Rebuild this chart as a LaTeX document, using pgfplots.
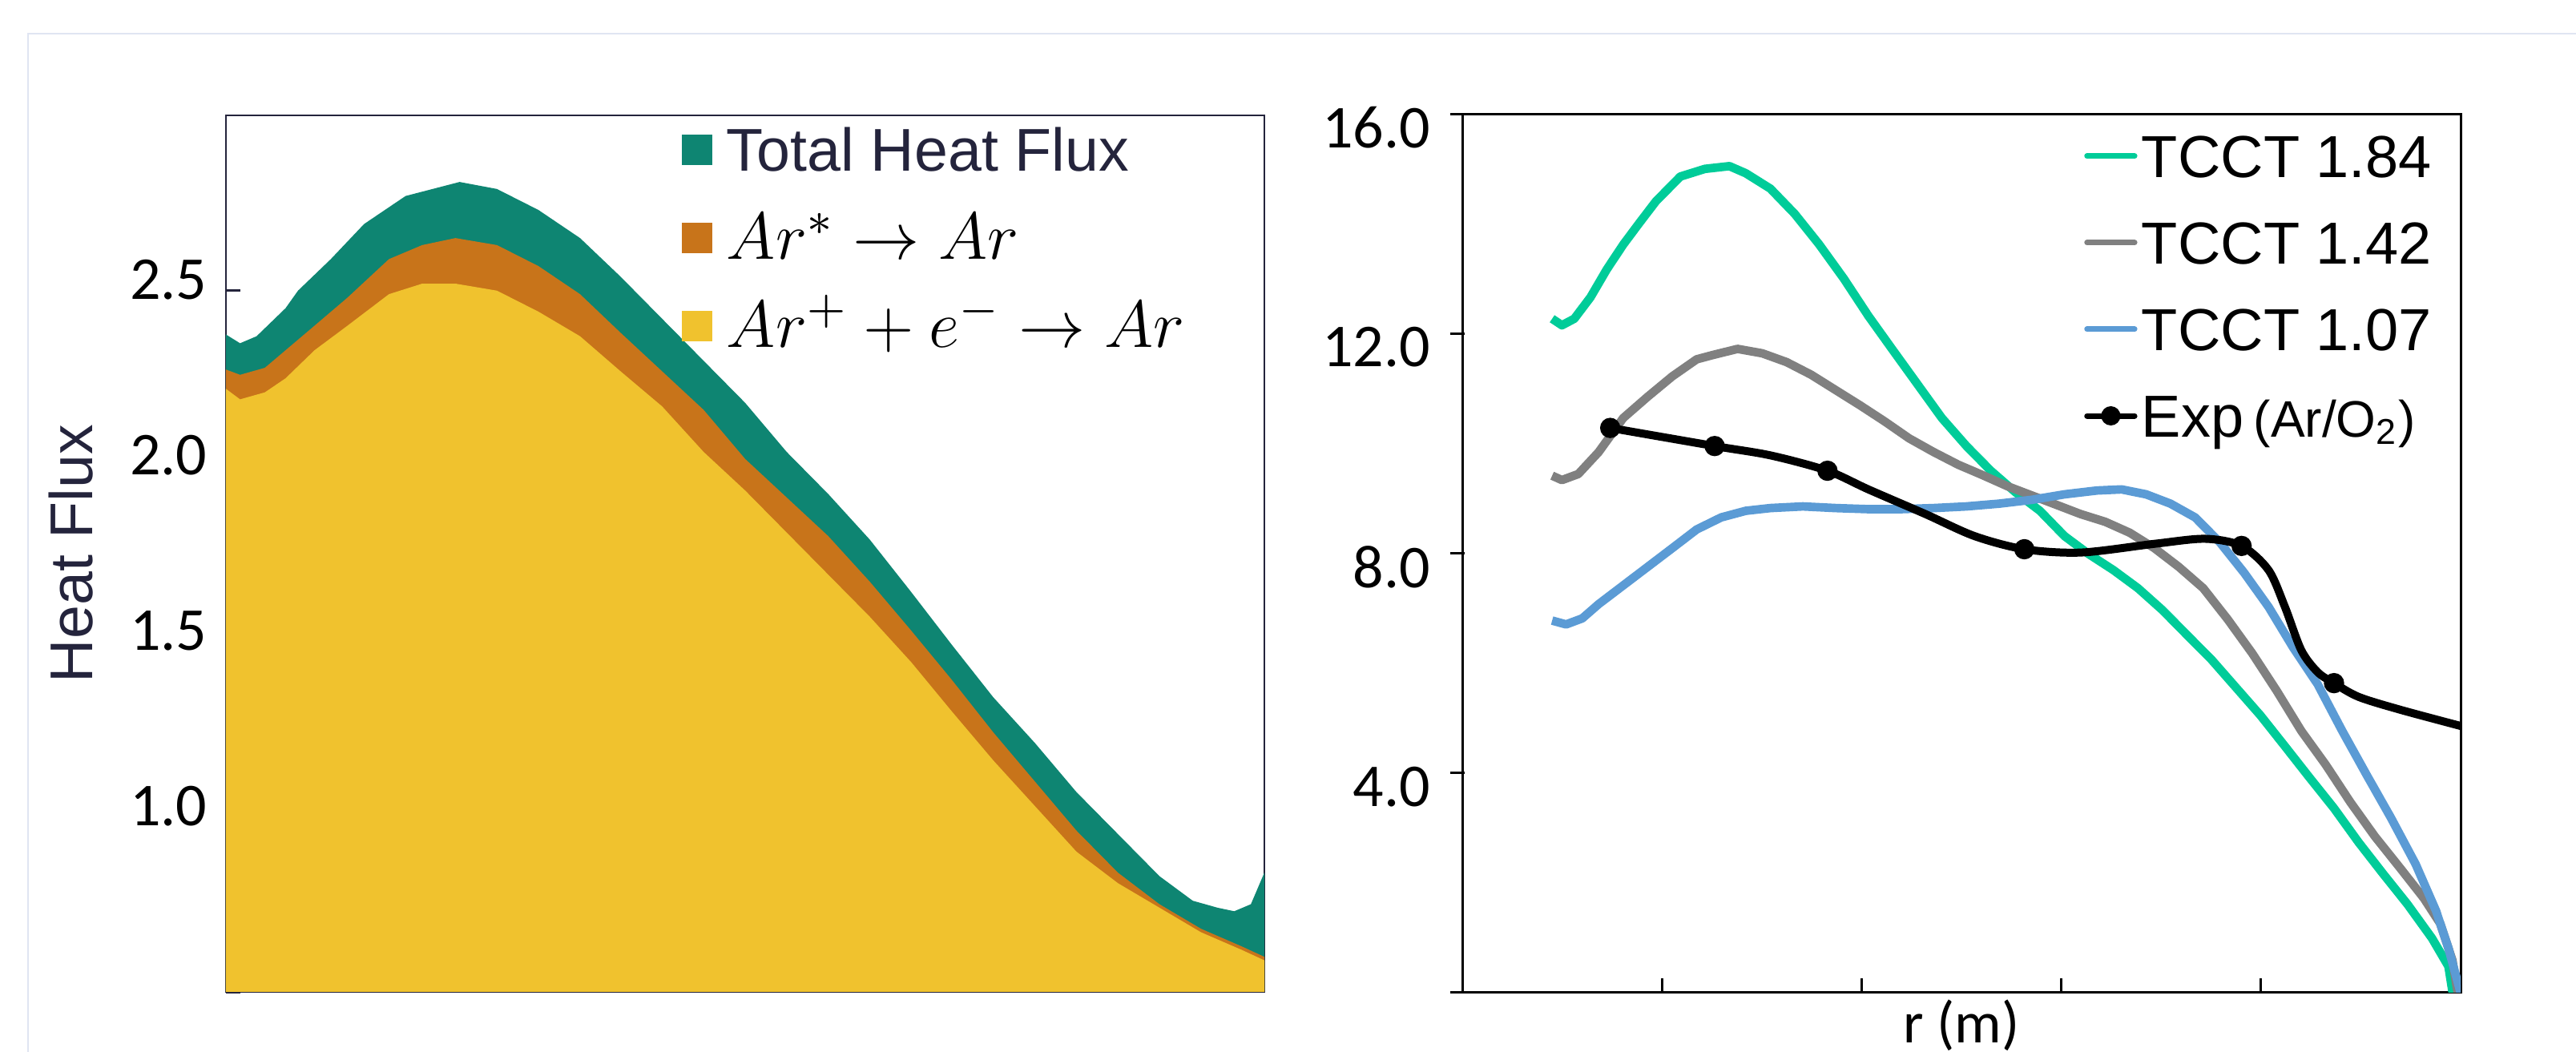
\documentclass[border=0pt]{standalone}
\usepackage{fix-cm}
\usepackage{pgfplots}
\pgfplotsset{compat=1.18}
\usepackage{fontspec}
\setmainfont{Liberation Sans}
\newfontfamily\calib{Carlito}
\definecolor{navy}{HTML}{24243C}
\definecolor{tealc}{HTML}{0E8572}
\definecolor{orangec}{HTML}{C8741A}
\definecolor{yellowc}{HTML}{F0C22E}
\definecolor{greenc}{HTML}{00CC99}
\definecolor{grayc}{HTML}{808080}
\definecolor{bluec}{HTML}{5B9BD5}
\definecolor{framec}{HTML}{E0E5F2}
\begin{document}
\begin{tikzpicture}
\path[use as bounding box] (0pt,0pt) rectangle (482.25pt,196.95pt);
\draw[framec, line width=0.3pt] (5.2pt,-2pt) -- (5.2pt,190.65pt) -- (490pt,190.65pt);

% ---------------- left panel ----------------
\begin{axis}[
  at={(42.3pt,11.25pt)}, anchor=south west,
  scale only axis, width=194.4pt, height=164.1pt,
  xmin=0, xmax=1, ymin=0.5, ymax=3.0,
  xtick=\empty,
  ytick={0.5,1,1.5,2,2.5}, yticklabels={,1.0,1.5,2.0,2.5},
  tick pos=left,
  tick align=inside, major tick length=2.7pt,
  axis line style={navy, line width=0.4pt},
  ytick style={navy, line width=0.5pt},
  yticklabel style={font=\calib\fontsize{11.4}{13}\selectfont, black, yshift=2pt},
  /pgf/number format/assume math mode=true,
  ylabel={Heat Flux},
  ylabel style={at={(rel axis cs:-0.149,0.5)}, anchor=center, font=\fontsize{11.3}{13}\selectfont, navy},
  legend cell align=left,
  legend style={at={(rel axis cs:0.439,1.011)}, anchor=north west, draw=none, fill=none,
    inner sep=0pt, outer sep=0pt, row sep=0pt,
    nodes={inner sep=0pt, text height=12.3pt, text depth=4.2pt},
    /tikz/every odd column/.style={column sep=2.7pt},
    font=\fontsize{11.3}{13}\selectfont},
  legend image code/.code={\fill[#1] (0pt,-2.85pt) rectangle (5.7pt,2.85pt);},
]
\addplot[fill=tealc, draw=none] coordinates {
(0,2.375)(0.0136,2.35)(0.0295,2.37)(0.0574,2.45)(0.0694,2.50)(0.101,2.59)(0.133,2.69)(0.173,2.77)(0.225,2.81)(0.261,2.79)(0.301,2.73)(0.341,2.65)(0.380,2.54)(0.420,2.42)(0.460,2.30)(0.500,2.18)(0.540,2.04)(0.580,1.92)(0.620,1.79)(0.660,1.64)(0.699,1.49)(0.739,1.34)(0.779,1.21)(0.819,1.07)(0.859,0.95)(0.899,0.83)(0.931,0.76)(0.955,0.74)(0.971,0.73)(0.987,0.75)(1,0.84)
} \closedcycle;
\addlegendentry{{\color{navy}Total Heat Flux}}
\addplot[fill=orangec, draw=none] coordinates {
(0,2.275)(0.0136,2.26)(0.0375,2.28)(0.0574,2.33)(0.0853,2.40)(0.117,2.48)(0.157,2.59)(0.189,2.63)(0.221,2.65)(0.261,2.63)(0.301,2.57)(0.341,2.49)(0.380,2.38)(0.420,2.27)(0.460,2.16)(0.500,2.02)(0.540,1.91)(0.580,1.80)(0.620,1.67)(0.660,1.53)(0.699,1.39)(0.739,1.24)(0.779,1.10)(0.819,0.96)(0.859,0.84)(0.899,0.75)(0.939,0.68)(0.978,0.63)(1,0.60)
} \closedcycle;
\addlegendentry{\fontsize{12.5}{14}\selectfont$Ar^{*}\rightarrow Ar$}
\addplot[fill=yellowc, draw=none] coordinates {
(0,2.22)(0.0136,2.19)(0.0375,2.21)(0.0574,2.25)(0.0853,2.33)(0.117,2.40)(0.157,2.49)(0.189,2.52)(0.221,2.52)(0.261,2.50)(0.301,2.44)(0.341,2.37)(0.380,2.27)(0.420,2.17)(0.460,2.04)(0.500,1.93)(0.540,1.81)(0.580,1.69)(0.620,1.57)(0.660,1.44)(0.699,1.30)(0.739,1.16)(0.779,1.03)(0.819,0.90)(0.859,0.81)(0.899,0.74)(0.939,0.67)(0.978,0.62)(1,0.59)
} \closedcycle;
\addlegendentry{\fontsize{12.5}{14}\selectfont$Ar^{+}+e^{-}\rightarrow Ar$}
\end{axis}

% ---------------- right panel ----------------
\begin{axis}[
  at={(273.75pt,11.1pt)}, anchor=south west,
  scale only axis, width=186.9pt, height=164.4pt,
  xmin=0, xmax=5, ymin=0, ymax=16,
  xtick={1,2,3,4}, xticklabels=\empty,
  ytick={0,4,8,12,16}, yticklabels={,4.0,8.0,12.0,16.0},
  tick pos=left,
  tick align=inside, major tick length=2.7pt,
  axis line style={black, line width=0.45pt},
  xtick style={black, line width=0.45pt},
  ytick style={black, line width=0.45pt, xshift=-2.2pt},
  yticklabel style={font=\calib\fontsize{11.4}{13}\selectfont, black, yshift=-2.5pt, xshift=-2.5pt},
  /pgf/number format/assume math mode=true,
  xlabel={r (m)},
  xlabel style={at={(rel axis cs:0.5,0)}, anchor=north, yshift=-1.2pt, inner sep=0pt, font=\calib\fontsize{11}{12}\selectfont},
  legend cell align=left,
  legend style={at={(rel axis cs:0.623,1.002)}, anchor=north west, draw=none, fill=none,
    inner sep=0pt, outer sep=0pt, row sep=0pt,
    nodes={inner sep=0pt, text height=12.08pt, text depth=4.13pt},
    /tikz/every odd column/.style={column sep=0.8pt},
    font=\fontsize{11.1}{13}\selectfont},
  legend image code/.code={\draw[#1, line width=1.05pt, line cap=round] (0pt,0pt) -- (8.9pt,0pt);},
]
\addplot[greenc, line width=1.6pt, line join=round] coordinates {
(0.450,12.28)(0.499,12.16)(0.561,12.28)(0.642,12.67)(0.724,13.18)(0.806,13.63)(0.888,14.03)(0.970,14.42)(1.092,14.87)(1.215,15.01)(1.338,15.06)(1.420,14.93)(1.543,14.65)(1.665,14.19)(1.788,13.63)(1.911,13.01)(2.034,12.33)(2.156,11.71)(2.279,11.09)(2.402,10.47)(2.525,9.96)(2.647,9.51)(2.770,9.12)(2.893,8.78)(3.016,8.32)(3.138,7.99)(3.261,7.70)(3.384,7.37)(3.507,6.97)(3.629,6.52)(3.752,6.07)(3.875,5.56)(3.998,5.05)(4.120,4.49)(4.243,3.92)(4.366,3.36)(4.489,2.74)(4.611,2.17)(4.734,1.61)(4.857,0.99)(4.939,0.48)(4.96,0)
};
\addlegendentry{TCCT 1.84}
\addplot[grayc, line width=1.6pt, line join=round] coordinates {
(0.450,9.42)(0.499,9.34)(0.581,9.45)(0.683,9.85)(0.806,10.47)(0.929,10.86)(1.052,11.23)(1.174,11.54)(1.256,11.62)(1.379,11.73)(1.502,11.65)(1.624,11.49)(1.747,11.26)(1.870,10.98)(1.993,10.70)(2.115,10.41)(2.238,10.10)(2.361,9.85)(2.484,9.62)(2.606,9.43)(2.729,9.23)(2.852,9.06)(2.975,8.89)(3.097,8.72)(3.220,8.58)(3.343,8.38)(3.466,8.10)(3.588,7.76)(3.711,7.37)(3.834,6.80)(3.957,6.18)(4.079,5.50)(4.202,4.77)(4.325,4.15)(4.448,3.47)(4.570,2.85)(4.693,2.29)(4.816,1.72)(4.898,1.26)(4.959,0.59)(4.985,0)
};
\addlegendentry{TCCT 1.42}
\addplot[bluec, line width=1.6pt, line join=round] coordinates {
(0.450,6.78)(0.520,6.71)(0.601,6.82)(0.683,7.08)(0.806,7.42)(0.929,7.76)(1.052,8.10)(1.174,8.44)(1.297,8.66)(1.420,8.78)(1.543,8.83)(1.706,8.86)(1.870,8.83)(2.034,8.81)(2.197,8.81)(2.361,8.83)(2.525,8.86)(2.688,8.91)(2.852,8.98)(3.016,9.08)(3.179,9.15)(3.302,9.17)(3.425,9.08)(3.547,8.91)(3.670,8.66)(3.793,8.21)(3.916,7.65)(4.038,7.03)(4.161,6.29)(4.284,5.62)(4.407,4.77)(4.529,3.97)(4.652,3.18)(4.775,2.34)(4.877,1.49)(4.939,0.81)(5.0,0)
};
\addlegendentry{TCCT 1.07}
\addplot[black, line width=1.5pt, smooth, forget plot] coordinates {
(0.741,10.29)(1.264,9.96)(1.543,9.79)(1.829,9.51)(2.034,9.17)(2.32,8.72)(2.565,8.32)(2.815,8.08)(3.1,8.02)(3.47,8.18)(3.72,8.27)(3.903,8.14)(4.038,7.70)(4.12,7.03)(4.202,6.24)(4.284,5.84)(4.366,5.64)(4.489,5.39)(4.693,5.16)(5.0,4.86)
};
\addplot[only marks, mark=*, mark size=1.7pt, black,
  legend image code/.code={\draw[black, line width=1.05pt, line cap=round] (0pt,0pt) -- (8.9pt,0pt);
    \draw[black, fill=black] plot[mark=*, mark size=1.6pt] coordinates {(4.45pt,0pt)};}] coordinates {
(0.741,10.29)(1.264,9.96)(1.829,9.51)(2.815,8.08)(3.903,8.14)(4.366,5.64)
};
\addlegendentry{Exp\,{\fontsize{9.6}{11}\selectfont(Ar/O\textsubscript{2})}}
\end{axis}
\end{tikzpicture}
\end{document}
